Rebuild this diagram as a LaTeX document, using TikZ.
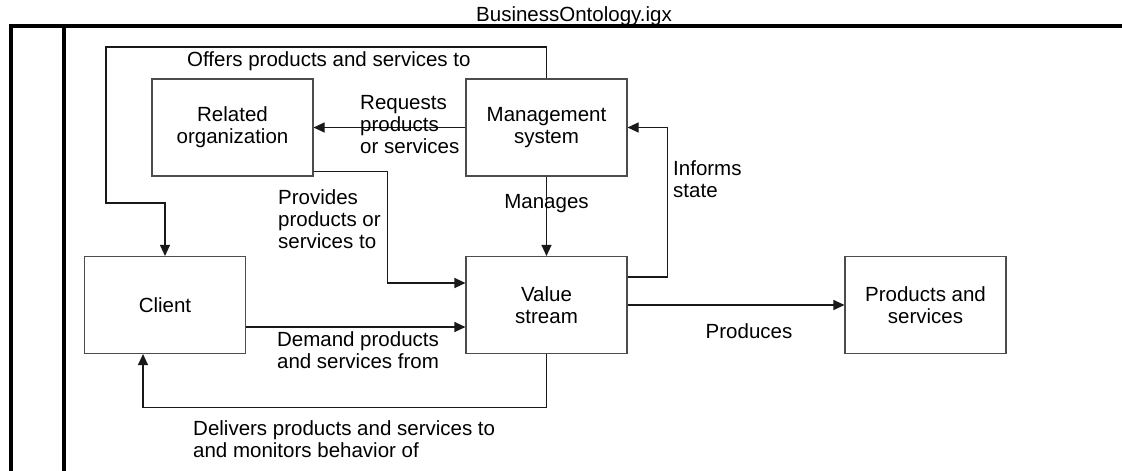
\documentclass[tikz,border=0pt]{standalone}
\usepackage{fontspec}
\setmainfont{Liberation Sans}
\usetikzlibrary{arrows.meta}
\begin{document}
\begin{tikzpicture}
        [x=1pt,y=-1pt,
        every node/.style={font=\fontsize{20.5}{22}\selectfont},
        box/.style={draw=black!70,line width=1.1pt,minimum width=161pt,
                minimum height=97pt,inner sep=0pt,align=center},
        flow/.style={draw=black!90,line width=1.1pt,
                -{Triangle[length=11pt,width=10pt]}},
        lbl/.style={inner sep=0pt,align=left,anchor=west},
        frame/.style={line width=4pt}]
        \useasboundingbox (0,0) rectangle (1122,471);
        \node (title) at (574,16) {BusinessOntology.igx};
        \draw[frame] (11.3,471) -- (11.3,26) -- (1122,26);
        \draw[frame] (63.7,26) -- (63.7,471);
        \node[box] (relorg) at (232.5,127.5) {Related\\organization};
        \node[box] (mgmt) at (546.5,127.5) {Management\\system};
        \node[box] (client) at (165,305) {Client};
        \node[box] (value) at (546.5,305) {Value\\stream};
        \node[box] (prodserv) at (925.5,305) {Products and\\services};
        \coordinate (offtop) at (106,47);
        \coordinate (offturn) at (106,203);
        \draw[flow] (mgmt.north) |- (offtop) -- (offturn) -| (client.north);
        \draw[flow] (mgmt.west) -- (relorg.east);
        \draw[flow] ([yshift=5pt]relorg.south east)
                -| ([xshift=-78pt,yshift=22pt]value.west) -- ([yshift=22pt]value.west);
        \draw[flow] (mgmt.south) -- (value.north);
        \draw[flow] ([yshift=28pt]value.east) -| ([xshift=40pt]mgmt.east) -- (mgmt.east);
        \draw[flow] ([yshift=-22pt]client.east) -- ([yshift=-22pt]value.west);
        \draw[flow] (value.south) |- ([xshift=-22pt,yshift=-53pt]client.south)
                -- ([xshift=-22pt]client.south);
        \draw[flow] (value.east) -- (prodserv.west);
        \node[lbl] (offerslbl) at (187,61) {Offers products and services to};
        \node[lbl] (requestslbl) at (360,125) {Requests\\products\\or services};
        \node[lbl] (provideslbl) at (278,219) {Provides\\products or\\services to};
        \node (manageslbl) at (546.5,204) {Manages};
        \node[lbl] (informslbl) at (673,179) {Informs\\state};
        \node[align=center,inner sep=0pt] (demandlbl) at (358,350) {Demand products\\and services from};
        \node[lbl] (deliverslbl) at (193,439) {Delivers products and services to\\and monitors behavior of};
        \node (produceslbl) at (749,331) {Produces};
\end{tikzpicture}
\end{document}
